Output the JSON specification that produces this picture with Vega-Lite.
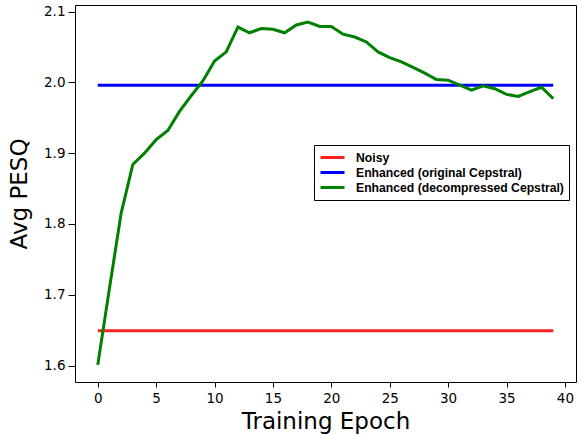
{
  "$schema": "https://vega.github.io/schema/vega-lite/v6.json",
  "width": 501,
  "height": 377,
  "autosize": "none",
  "padding": {"left": 75, "top": 5, "right": 7, "bottom": 52},
  "background": "white",
  "config": {
    "view": {"stroke": "black", "strokeWidth": 1},
    "axis": {"grid": false, "domain": false, "tickColor": "black", "labelFont": "DejaVu Sans", "labelFontSize": 13.5, "labelColor": "black", "titleFont": "DejaVu Sans", "titleFontSize": 23, "titleFontWeight": "normal", "titleColor": "black"}
  },
  "data": {
    "values": [
      {"series": "Noisy", "epoch": 0, "pesq": 1.649},
      {"series": "Noisy", "epoch": 39, "pesq": 1.649},
      {"series": "Enhanced (original Cepstral)", "epoch": 0, "pesq": 1.996},
      {"series": "Enhanced (original Cepstral)", "epoch": 39, "pesq": 1.996},
      {"series": "Enhanced (decompressed Cepstral)", "epoch": 0, "pesq": 1.601},
      {"series": "Enhanced (decompressed Cepstral)", "epoch": 1, "pesq": 1.709},
      {"series": "Enhanced (decompressed Cepstral)", "epoch": 2, "pesq": 1.815},
      {"series": "Enhanced (decompressed Cepstral)", "epoch": 3, "pesq": 1.884},
      {"series": "Enhanced (decompressed Cepstral)", "epoch": 4, "pesq": 1.900},
      {"series": "Enhanced (decompressed Cepstral)", "epoch": 5, "pesq": 1.919},
      {"series": "Enhanced (decompressed Cepstral)", "epoch": 6, "pesq": 1.932},
      {"series": "Enhanced (decompressed Cepstral)", "epoch": 7, "pesq": 1.959},
      {"series": "Enhanced (decompressed Cepstral)", "epoch": 8, "pesq": 1.981},
      {"series": "Enhanced (decompressed Cepstral)", "epoch": 9, "pesq": 2.002},
      {"series": "Enhanced (decompressed Cepstral)", "epoch": 10, "pesq": 2.030},
      {"series": "Enhanced (decompressed Cepstral)", "epoch": 11, "pesq": 2.043},
      {"series": "Enhanced (decompressed Cepstral)", "epoch": 12, "pesq": 2.078},
      {"series": "Enhanced (decompressed Cepstral)", "epoch": 13, "pesq": 2.070},
      {"series": "Enhanced (decompressed Cepstral)", "epoch": 14, "pesq": 2.076},
      {"series": "Enhanced (decompressed Cepstral)", "epoch": 15, "pesq": 2.075},
      {"series": "Enhanced (decompressed Cepstral)", "epoch": 16, "pesq": 2.070},
      {"series": "Enhanced (decompressed Cepstral)", "epoch": 17, "pesq": 2.081},
      {"series": "Enhanced (decompressed Cepstral)", "epoch": 18, "pesq": 2.085},
      {"series": "Enhanced (decompressed Cepstral)", "epoch": 19, "pesq": 2.079},
      {"series": "Enhanced (decompressed Cepstral)", "epoch": 20, "pesq": 2.079},
      {"series": "Enhanced (decompressed Cepstral)", "epoch": 21, "pesq": 2.068},
      {"series": "Enhanced (decompressed Cepstral)", "epoch": 22, "pesq": 2.064},
      {"series": "Enhanced (decompressed Cepstral)", "epoch": 23, "pesq": 2.057},
      {"series": "Enhanced (decompressed Cepstral)", "epoch": 24, "pesq": 2.043},
      {"series": "Enhanced (decompressed Cepstral)", "epoch": 25, "pesq": 2.035},
      {"series": "Enhanced (decompressed Cepstral)", "epoch": 26, "pesq": 2.029},
      {"series": "Enhanced (decompressed Cepstral)", "epoch": 27, "pesq": 2.021},
      {"series": "Enhanced (decompressed Cepstral)", "epoch": 28, "pesq": 2.013},
      {"series": "Enhanced (decompressed Cepstral)", "epoch": 29, "pesq": 2.004},
      {"series": "Enhanced (decompressed Cepstral)", "epoch": 30, "pesq": 2.003},
      {"series": "Enhanced (decompressed Cepstral)", "epoch": 31, "pesq": 1.996},
      {"series": "Enhanced (decompressed Cepstral)", "epoch": 32, "pesq": 1.989},
      {"series": "Enhanced (decompressed Cepstral)", "epoch": 33, "pesq": 1.995},
      {"series": "Enhanced (decompressed Cepstral)", "epoch": 34, "pesq": 1.991},
      {"series": "Enhanced (decompressed Cepstral)", "epoch": 35, "pesq": 1.983},
      {"series": "Enhanced (decompressed Cepstral)", "epoch": 36, "pesq": 1.980},
      {"series": "Enhanced (decompressed Cepstral)", "epoch": 37, "pesq": 1.987},
      {"series": "Enhanced (decompressed Cepstral)", "epoch": 38, "pesq": 1.993},
      {"series": "Enhanced (decompressed Cepstral)", "epoch": 39, "pesq": 1.977}
    ]
  },
  "mark": {"type": "line", "strokeWidth": 3, "clip": true},
  "encoding": {
    "x": {"field": "epoch", "type": "quantitative", "title": "Training Epoch",
      "scale": {"domain": [-1.95, 40.95], "nice": false, "zero": false},
      "axis": {"values": [0, 5, 10, 15, 20, 25, 30, 35, 40], "tickSize": 5, "labelPadding": 4, "titlePadding": 6}},
    "y": {"field": "pesq", "type": "quantitative", "title": "Avg PESQ",
      "scale": {"domain": [1.5768, 2.1092], "nice": false, "zero": false},
      "axis": {"values": [1.6, 1.7, 1.8, 1.9, 2.0, 2.1], "format": ".1f", "tickSize": 7, "labelPadding": 3, "titlePadding": 12}},
    "color": {"field": "series", "type": "nominal",
      "scale": {"domain": ["Noisy", "Enhanced (original Cepstral)", "Enhanced (decompressed Cepstral)"], "range": ["#ff2020", "#0000ff", "#008000"]},
      "legend": {"title": null, "orient": "none", "legendX": 239, "legendY": 140, "symbolType": "stroke", "symbolStrokeWidth": 3, "symbolSize": 576, "clipHeight": 15, "labelFont": "Liberation Sans", "labelFontWeight": "bold", "labelFontSize": 12.2, "labelColor": "black", "labelLimit": 0, "rowPadding": 0, "padding": 5, "strokeColor": "black", "fillColor": "white", "labelOffset": 10}
    },
    "order": {"field": "epoch"}
  }
}
